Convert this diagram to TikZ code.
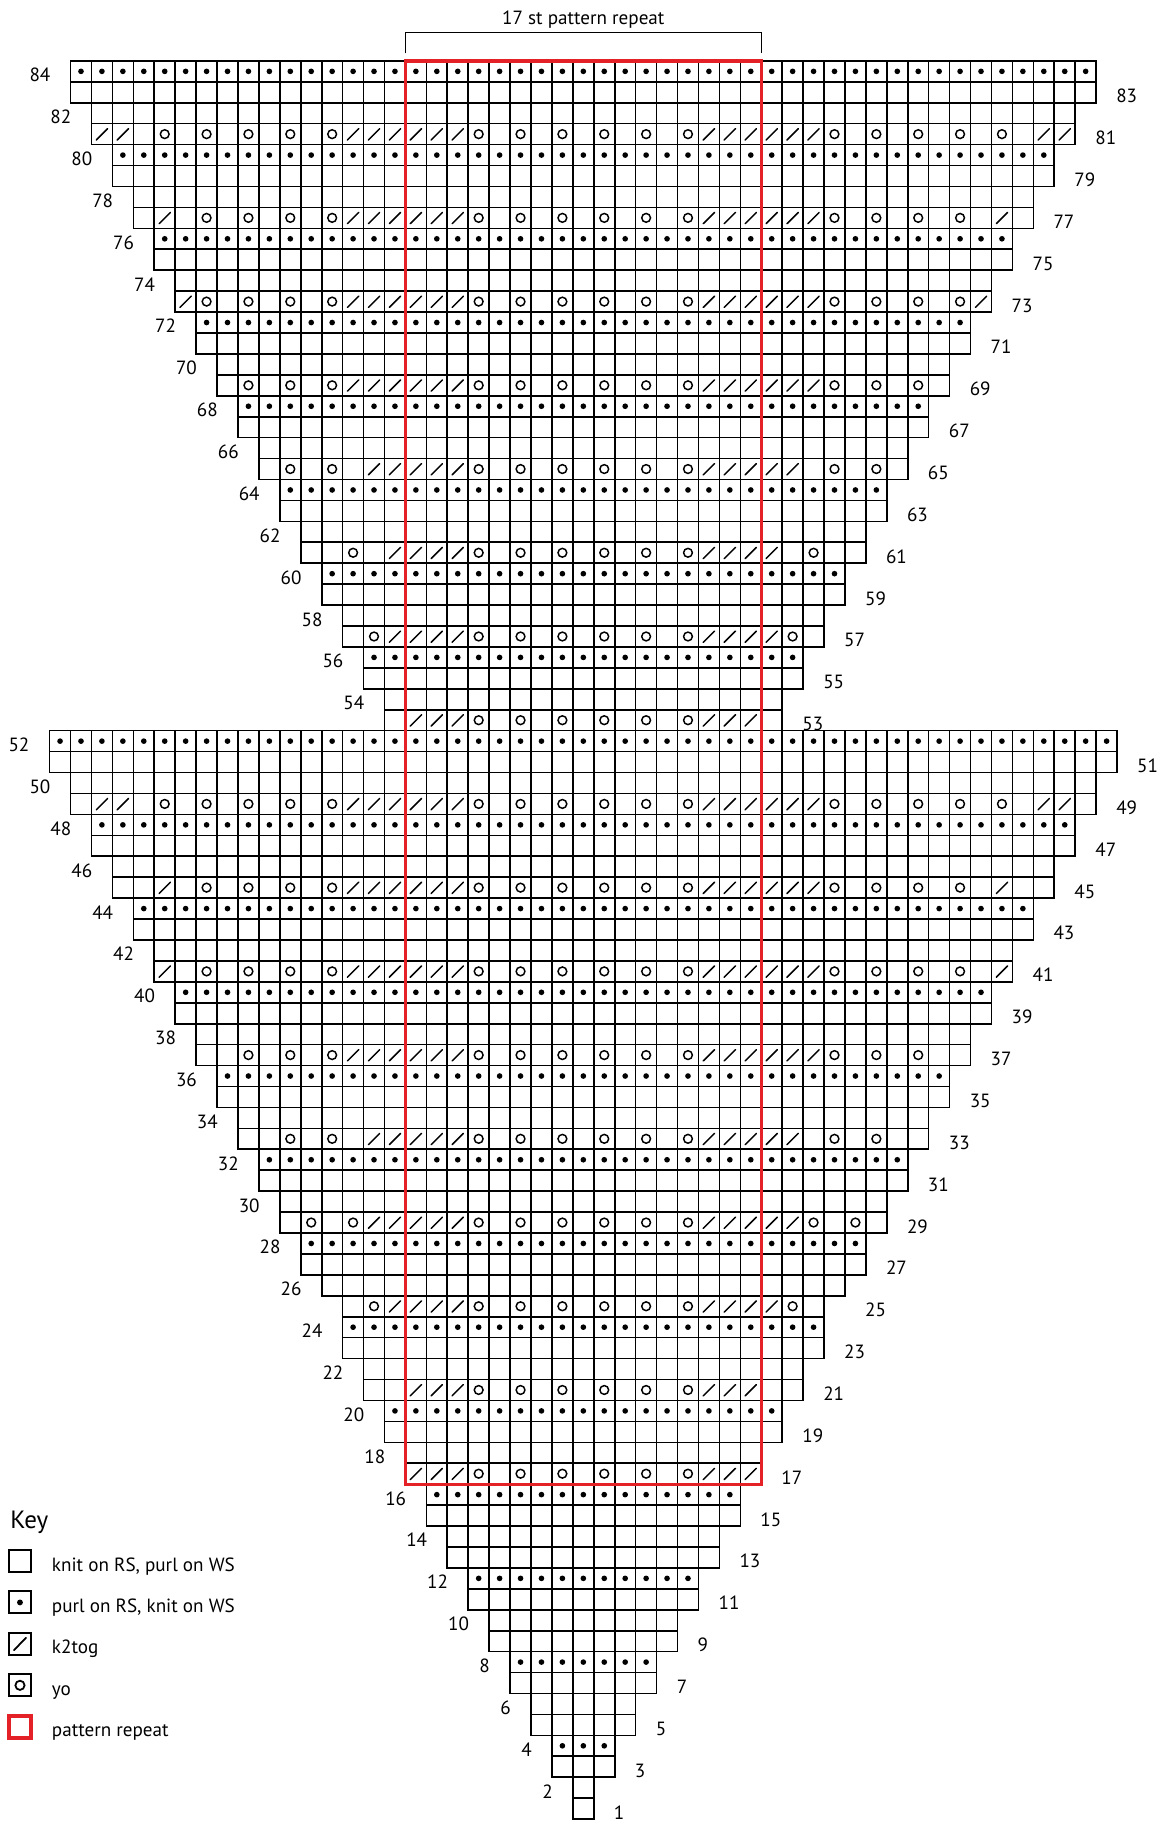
\documentclass[tikz,border=0pt]{standalone}
\usepackage{fontspec}
\setmainfont{PT Sans}
\usepackage{xcolor}
\usepackage{tikz}
\definecolor{repeatred}{HTML}{E42127}

\begin{document}
\begin{tikzpicture}[x=0.5cm, y=0.5cm,
    cell/.style={draw=black, line width=1.1pt},
    purl/.style={fill=black},
    ktog/.style={line width=1pt, line cap=round},
    yo/.style={line width=1pt},
    rowlbl/.style={font=\fontsize{13}{15}\selectfont, inner sep=0pt}]
\path[fill=white] (-27.87,-0.14) rectangle (27.74,86.91);
\useasboundingbox (-27.87,-0.14) rectangle (27.74,86.91);

% Chart rows, cells and row numbers
\foreach \rw in {1,...,84}{
    \pgfmathtruncatemacro{\h}{\rw<53 ? floor((\rw-1)/2) : floor((\rw-35)/2)}
    \pgfmathtruncatemacro{\hc}{\rw==25 ? 11 : \h}
    \pgfmathtruncatemacro{\lo}{-\hc}
    \foreach \cl in {\lo,...,\hc}
        \draw[cell] (\cl-0.5, \rw-1) rectangle ++(1,1);
    \pgfmathtruncatemacro{\m}{mod(\rw,4)}
    \ifnum\m=0
        \foreach \cl in {\lo,...,\hc}
            \fill[purl] (\cl, \rw-0.5) circle[radius=0.135];
    \fi
    \pgfmathtruncatemacro{\odd}{mod(\rw,2)}
    \ifnum\odd=1
        \node[rowlbl, anchor=base west] (n\rw) at (\h+1.45, \rw-1) {\rw};
    \else
        \node[rowlbl, anchor=base east] (n\rw) at (-\h-1.45, \rw-1) {\rw};
    \fi
}

% Lace rows: k2tog and yo columns, mirrored about the centre stitch
\foreach \rw/\kk/\yy in {
    81/{6,7,8,9,10,11,22,23}/{1,3,5,12,14,16,18,20},
    77/{6,7,8,9,10,11,20}/{1,3,5,12,14,16,18},
    73/{6,7,8,9,10,11,19}/{1,3,5,12,14,16,18},
    69/{6,7,8,9,10,11}/{1,3,5,12,14,16},
    65/{6,7,8,9,10}/{1,3,5,12,14},
    61/{6,7,8,9}/{1,3,5,11},
    57/{6,7,8,9}/{1,3,5,10},
    53/{6,7,8}/{1,3,5},
    49/{6,7,8,9,10,11,22,23}/{1,3,5,12,14,16,18,20},
    45/{6,7,8,9,10,11,20}/{1,3,5,12,14,16,18},
    41/{6,7,8,9,10,11,20}/{1,3,5,12,14,16,18},
    37/{6,7,8,9,10,11}/{1,3,5,12,14,16},
    33/{6,7,8,9,10}/{1,3,5,12,14},
    29/{6,7,8,9,10}/{1,3,5,11,13},
    25/{6,7,8,9}/{1,3,5,10},
    21/{6,7,8}/{1,3,5},
    17/{6,7,8}/{1,3,5}}{
    \foreach \cl in \kk{
        \draw[ktog] (\cl-0.27, \rw-0.78) -- (\cl+0.27, \rw-0.24);
        \draw[ktog] (-\cl-0.27, \rw-0.78) -- (-\cl+0.27, \rw-0.24);
    }
    \foreach \cl in \yy{
        \draw[yo] (\cl, \rw-0.5) circle[radius=0.21];
        \draw[yo] (-\cl, \rw-0.5) circle[radius=0.21];
    }
}

% 17 st pattern repeat
\draw[repeatred, line width=2.2pt] (-8.5,16) rectangle (8.5,84);
\draw[line width=0.8pt] (-8.5,84.36) -- (-8.5,85.37) -- (8.5,85.37) -- (8.5,84.36);
\node[rowlbl, anchor=base] (rpt) at (0,85.75) {17 st pattern repeat};

% Key
\node[font=\fontsize{17}{20}\selectfont, anchor=base west, inner sep=0pt] (key) at (-27.39,13.89) {Key};
\foreach \i/\txt in {0/{knit on RS, purl on WS}, 1/{purl on RS, knit on WS}, 2/k2tog, 3/yo, 4/pattern repeat}{
    \pgfmathsetmacro{\ky}{12.33-1.98*\i}
    \node[rowlbl, anchor=base west] (key\i) at (-25.4, \ky-0.48) {\txt};
}
\foreach \i in {0,1,2,3}
    \draw[line width=1.4pt] (-27.44, 12.33-1.98*\i-0.525) rectangle ++(1.05,1.05);
\fill[purl] (-26.915, 10.35) circle[radius=0.14];
\draw[ktog, line width=1.2pt] (-27.2, 8.07) -- (-26.63, 8.66);
\draw[yo, line width=1.2pt] (-26.915, 6.39) circle[radius=0.22];
\draw[repeatred, line width=2.4pt] (-27.44, 3.885) rectangle ++(1.05,1.05);
\end{tikzpicture}
\end{document}
